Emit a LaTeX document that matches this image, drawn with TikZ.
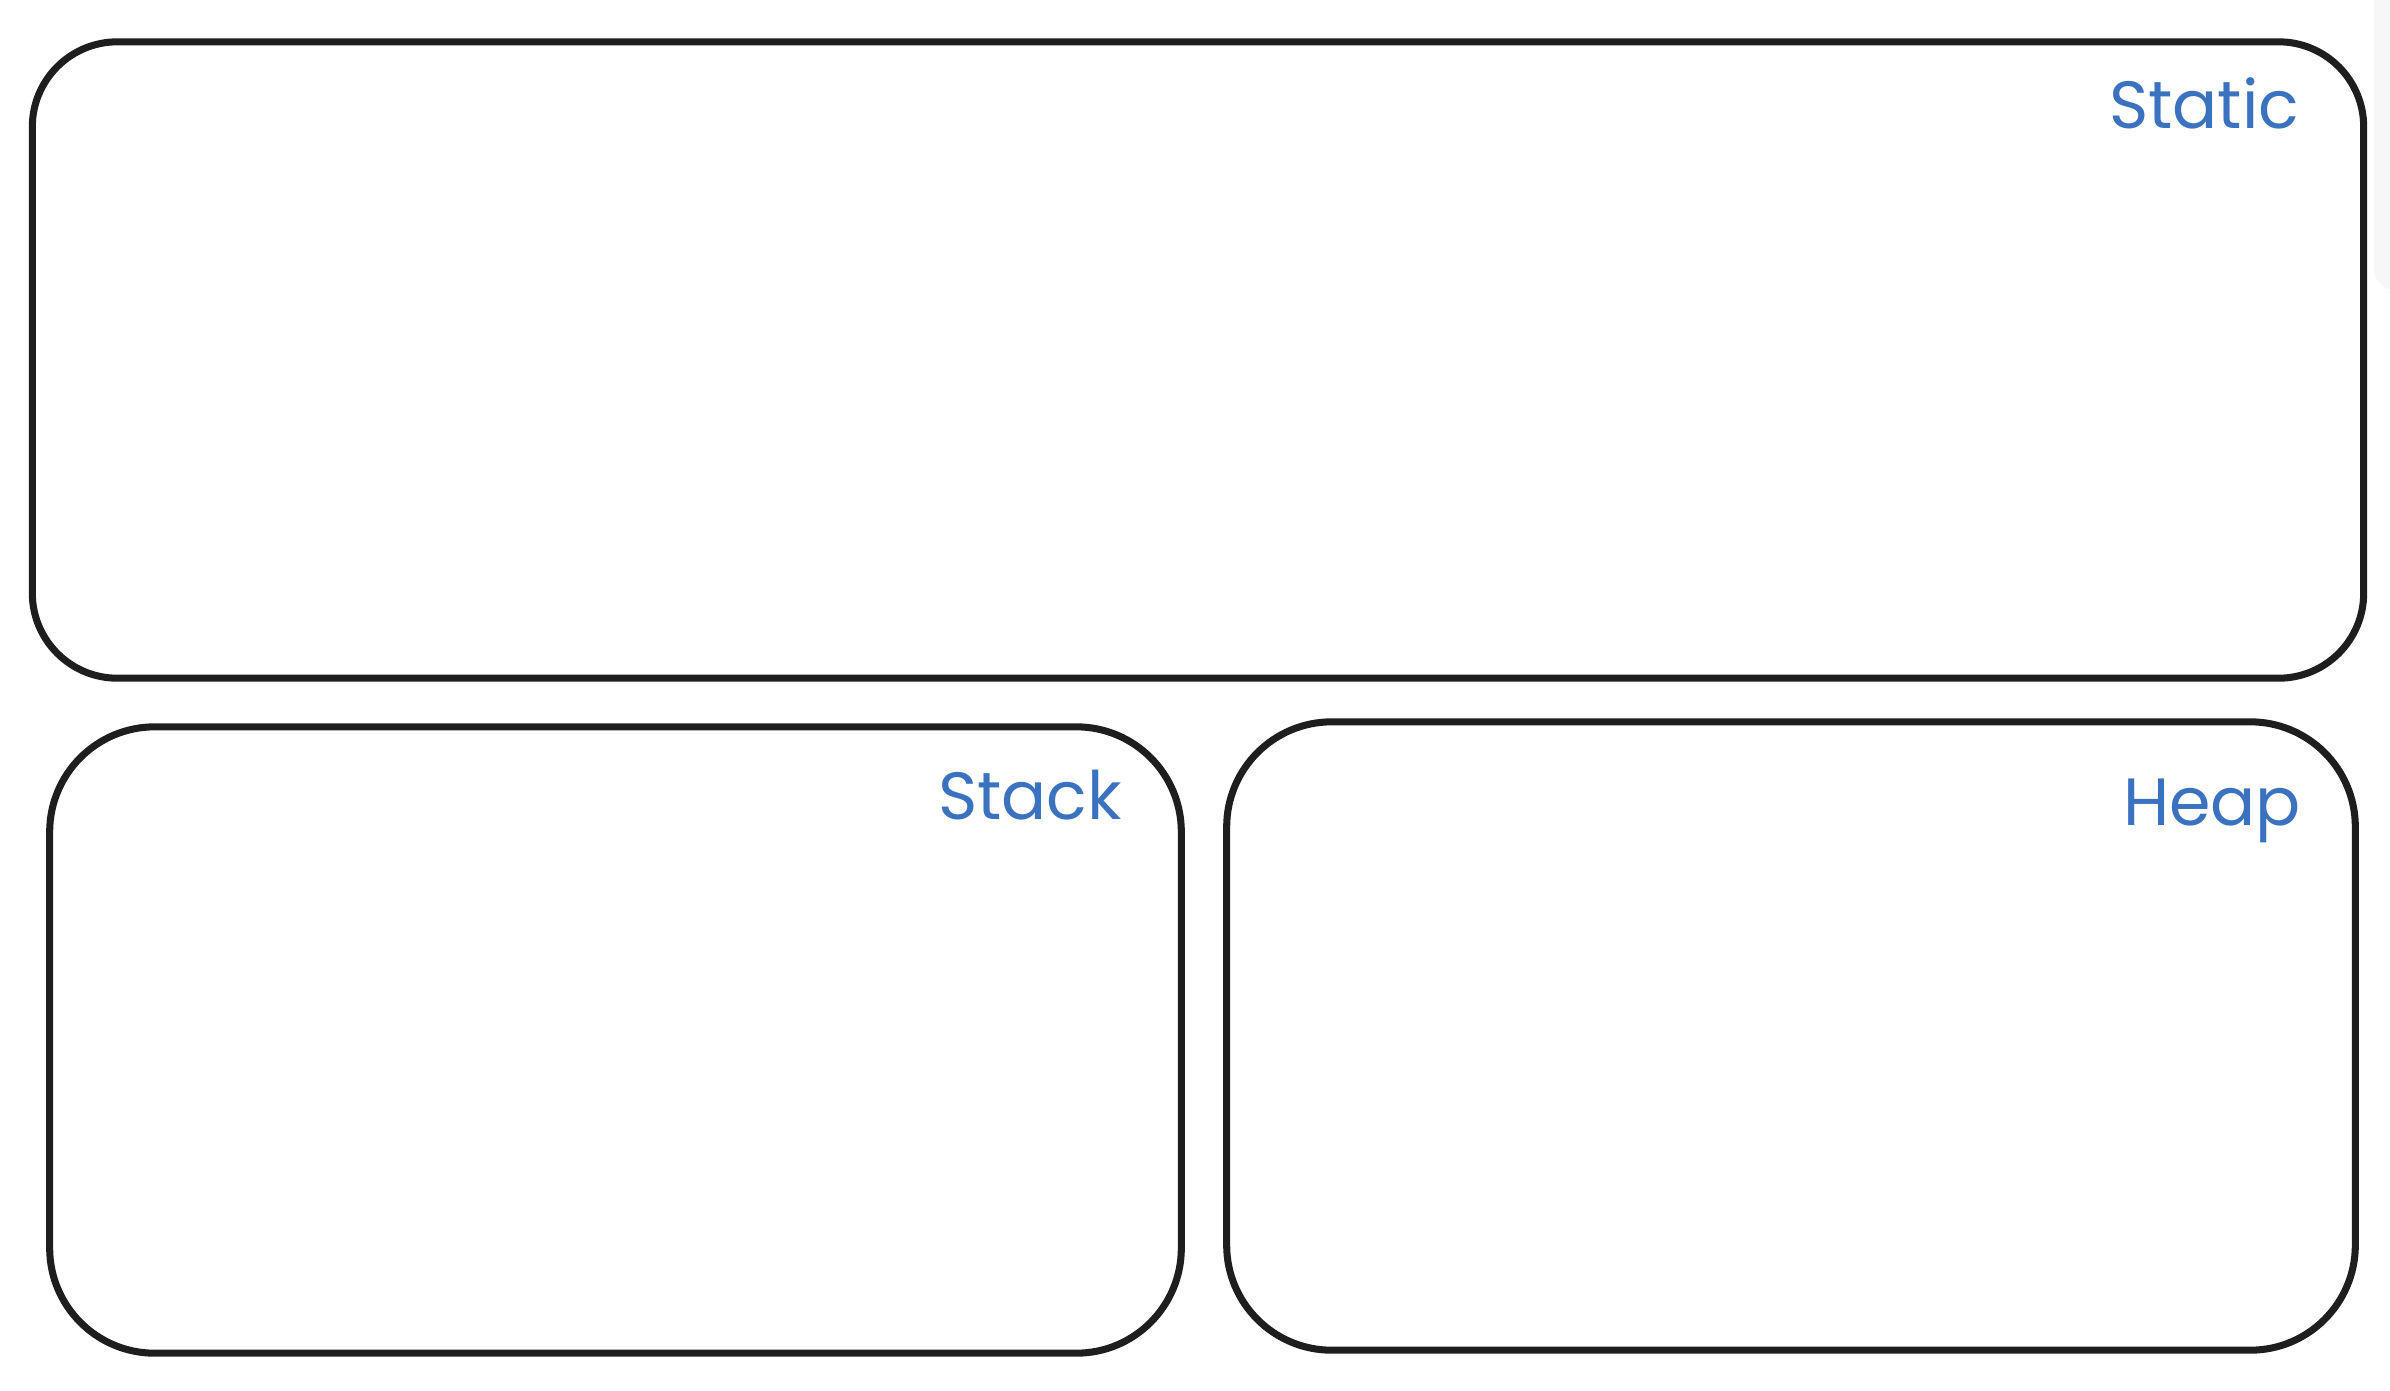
\documentclass[tikz,border=0pt]{standalone}
\usepackage{fontspec}
\setmainfont{Poppins}
\definecolor{lbl}{HTML}{3A72C0}
\definecolor{ink}{HTML}{1E1E1E}
\begin{document}
\begin{tikzpicture}[x=0.01cm,y=-0.01cm,
  region/.style={draw=ink, line width=2pt, rounded corners=#1, inner sep=0pt},
  title/.style={text=lbl, font=\fontsize{19}{22}\selectfont, anchor=base, inner sep=0pt}]
\useasboundingbox (0,0) rectangle (2390,1390);
\fill[white] (0,0) rectangle (2390,1390);
\fill[gray!6, rounded corners=6pt] (2374,-20) rectangle (2420,290);
% boxes
\node[region=0.85cm, minimum width=23.30cm, minimum height=6.36cm] (static) at (1198,360) {};
\node[region=1.05cm, minimum width=11.31cm, minimum height=6.26cm] (stack) at (615.5,1040) {};
\node[region=1.05cm, minimum width=11.28cm, minimum height=6.28cm] (heap) at (1791,1036) {};
% labels
\node[title] (tstatic) at (2204,128) {Static};
\node[title] (tstack) at (1030,819) {Stack};
\node[title] (theap) at (2212,825) {Heap};
\end{tikzpicture}
\end{document}
